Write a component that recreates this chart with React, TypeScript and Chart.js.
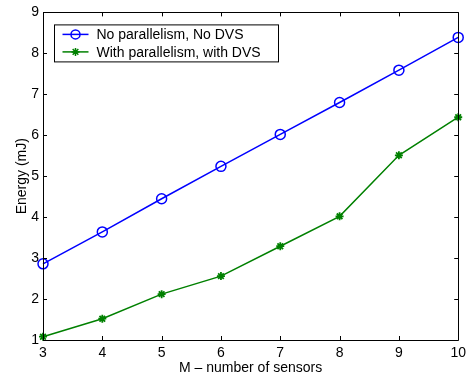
import React, { useEffect, useRef } from 'react';
import { Chart, registerables } from 'chart.js';

Chart.register(...registerables);

const sensors = [3, 4, 5, 6, 7, 8, 9, 10];
const noParallelism = [2.86, 3.64, 4.45, 5.24, 6.02, 6.8, 7.59, 8.39];
const withParallelism = [1.08, 1.52, 2.12, 2.56, 3.29, 4.02, 5.51, 6.44];
const xTicks = [3, 4, 5, 6, 7, 8, 9, 10];
const yTicks = [1, 2, 3, 4, 5, 6, 7, 8, 9];
const seriesLabels = ['No parallelism, No DVS', 'With parallelism, with DVS'];
const xTitle = 'M \u2013 number of sensors';
const yTitle = 'Energy (mJ)';

const FONT = '"Liberation Sans", Arial, Helvetica, sans-serif';
const BLUE = '#0000ff';
const GREEN = '#008000';

function drawStar(ctx: CanvasRenderingContext2D, x: number, y: number, r: number) {
  ctx.beginPath();
  ctx.moveTo(x - r, y); ctx.lineTo(x + r, y);
  ctx.moveTo(x, y - r); ctx.lineTo(x, y + r);
  const d = r * 0.7071;
  ctx.moveTo(x - d, y - d); ctx.lineTo(x + d, y + d);
  ctx.moveTo(x - d, y + d); ctx.lineTo(x + d, y - d);
  ctx.stroke();
}

const frame = {
  id: 'matlabFrame',
  afterDraw(chart: any) {
    const { ctx, chartArea: a, scales } = chart;
    const xs = scales.x, ys = scales.y;
    ctx.save();
    ctx.strokeStyle = '#000';
    ctx.lineWidth = 1;
    ctx.beginPath();
    ctx.rect(Math.round(a.left) + 0.5, Math.round(a.top) + 0.5, Math.round(a.right - a.left), Math.round(a.bottom - a.top));
    ctx.stroke();
    const tl = 4;
    ctx.beginPath();
    for (const v of xTicks) {
      const px = Math.round(xs.getPixelForValue(v)) + 0.5;
      ctx.moveTo(px, a.bottom); ctx.lineTo(px, a.bottom - tl);
      ctx.moveTo(px, a.top); ctx.lineTo(px, a.top + tl);
    }
    for (const v of yTicks) {
      const py = Math.round(ys.getPixelForValue(v)) + 0.5;
      ctx.moveTo(a.left, py); ctx.lineTo(a.left + tl, py);
      ctx.moveTo(a.right, py); ctx.lineTo(a.right - tl, py);
    }
    ctx.stroke();

    // legend
    const lx = a.left + 11.5, ly = a.top + 12.5, lw = 224, lh = 37;
    ctx.fillStyle = '#fff';
    ctx.fillRect(lx, ly, lw, lh);
    ctx.strokeStyle = '#000';
    ctx.strokeRect(lx, ly, lw, lh);
    const rows = [
      { label: seriesLabels[0], color: BLUE, y: ly + 9.5, m: 'circle' },
      { label: seriesLabels[1], color: GREEN, y: ly + 27, m: 'star' },
    ];
    ctx.font = '14px ' + FONT;
    ctx.textBaseline = 'middle';
    ctx.textAlign = 'left';
    for (const r of rows) {
      ctx.strokeStyle = r.color;
      ctx.lineWidth = 1.5;
      ctx.beginPath();
      ctx.moveTo(lx + 8, r.y); ctx.lineTo(lx + 34, r.y);
      ctx.stroke();
      if (r.m === 'circle') {
        ctx.beginPath();
        ctx.arc(lx + 21, r.y, 4.5, 0, Math.PI * 2);
        ctx.stroke();
      } else {
        drawStar(ctx, lx + 21, r.y, 4);
      }
      ctx.fillStyle = '#000';
      ctx.fillText(r.label, lx + 42, r.y + 1);
    }
    ctx.restore();
  },
};

export default function App() {
  const ref = useRef<HTMLCanvasElement | null>(null);
  useEffect(() => {
    document.body.style.margin = '0';
    if (!ref.current) return;
    const chart = new Chart(ref.current, {
      type: 'line',
      data: {
        datasets: [
          {
            label: seriesLabels[0],
            data: sensors.map((x, i) => ({ x, y: noParallelism[i] })),
            borderColor: BLUE,
            backgroundColor: 'transparent',
            borderWidth: 1.5,
            pointStyle: 'circle',
            pointRadius: 5,
            pointBorderWidth: 1.5,
            pointBorderColor: BLUE,
            pointBackgroundColor: 'transparent',
            clip: false,
            tension: 0,
          },
          {
            label: seriesLabels[1],
            data: sensors.map((x, i) => ({ x, y: withParallelism[i] })),
            borderColor: GREEN,
            backgroundColor: 'transparent',
            borderWidth: 1.5,
            pointStyle: 'star',
            pointRadius: 4,
            pointBorderWidth: 1.8,
            pointBorderColor: GREEN,
            pointBackgroundColor: GREEN,
            clip: false,
            tension: 0,
          },
        ],
      },
      options: {
        animation: false,
        responsive: true,
        maintainAspectRatio: false,
        layout: { padding: { top: 12, right: 11, left: 0, bottom: 0 } },
        plugins: { legend: { display: false }, tooltip: { enabled: false } },
        scales: {
          x: {
            type: 'linear',
            min: 3,
            max: 10,
            afterFit: (s: any) => { s.height = 36; },
            afterBuildTicks: (s: any) => { s.ticks = xTicks.map((v) => ({ value: v })); },
            grid: { display: false, drawTicks: false },
            border: { display: false },
            ticks: { color: '#000', padding: 5, font: { family: FONT, size: 14 }, maxRotation: 0, autoSkip: false },
            title: { display: true, text: xTitle, color: '#000', font: { family: FONT, size: 14 }, padding: { top: 0, bottom: -1 } },
          },
          y: {
            type: 'linear',
            min: 1,
            max: 9,
            afterFit: (s: any) => { s.width = 43; },
            afterBuildTicks: (s: any) => { s.ticks = yTicks.map((v) => ({ value: v })); },
            grid: { display: false, drawTicks: false },
            border: { display: false },
            ticks: { color: '#000', padding: 4, font: { family: FONT, size: 14 }, autoSkip: false },
            title: { display: true, text: yTitle, color: '#000', font: { family: FONT, size: 14 }, padding: { top: 14, bottom: 0 } },
          },
        },
      },
      plugins: [frame],
    });
    return () => chart.destroy();
  }, []);
  return (
    <div style={{ position: 'fixed', left: 0, top: 0, width: 471, height: 376, background: '#fff' }}>
      <canvas ref={ref} />
    </div>
  );
}
